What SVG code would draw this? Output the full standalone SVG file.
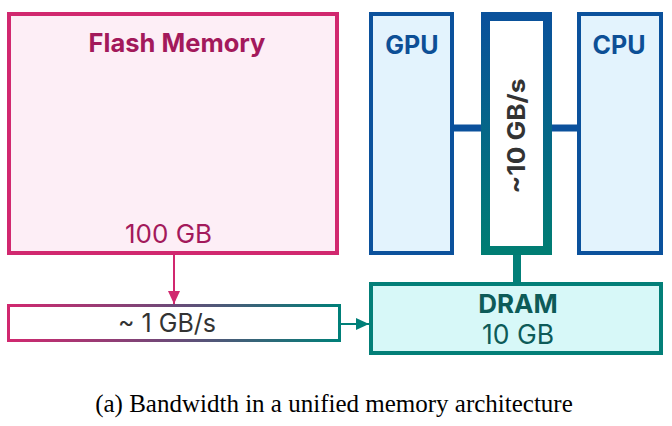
<svg xmlns="http://www.w3.org/2000/svg" width="672" height="426" viewBox="0 0 672 426">
<defs>
<linearGradient id="gv" x1="0" y1="0" x2="0" y2="1">
<stop offset="0" stop-color="#0a519b"/><stop offset="1" stop-color="#007d73"/>
</linearGradient>
<linearGradient id="gh" x1="0" y1="0" x2="1" y2="0">
<stop offset="0" stop-color="#d1286f"/><stop offset="0.5" stop-color="#6b4a78"/><stop offset="1" stop-color="#007f78"/>
</linearGradient>
<marker id="ap" markerWidth="13" markerHeight="12" refX="13" refY="6" orient="auto" markerUnits="userSpaceOnUse">
<path d="M0,0 L13,6 L0,12 Z" fill="#d1286f"/>
</marker>
<marker id="at" markerWidth="13" markerHeight="12" refX="13" refY="6" orient="auto" markerUnits="userSpaceOnUse">
<path d="M0,0 L13,6 L0,12 Z" fill="#007f78"/>
</marker>
</defs>
<style>
.sans{font-family:Inter,"Noto Sans","Liberation Sans",sans-serif}
.b{font-weight:700}
.flash{fill:#fdeef6;stroke:#d1286f;stroke-width:4}
.blue{fill:#e3f3fd;stroke:#0b519c;stroke-width:4}
.dram{fill:#d7f8f8;stroke:#037f78;stroke-width:4}
</style>
<rect width="672" height="426" fill="#fff"/>
<g id="connectors">
<line x1="454" y1="128" x2="481" y2="128" stroke="#0b519c" stroke-width="7"/>
<line x1="552" y1="128" x2="577" y2="128" stroke="#0b519c" stroke-width="7"/>
<line x1="517" y1="255" x2="517" y2="282" stroke="#037f78" stroke-width="8"/>
<line x1="174" y1="255" x2="174" y2="304" stroke="#d1286f" stroke-width="2" marker-end="url(#ap)"/>
<line x1="341" y1="324" x2="369" y2="324" stroke="#007f78" stroke-width="2" marker-end="url(#at)"/>
</g>
<g id="flash">
<rect class="flash" x="9" y="14" width="328" height="239"/>
<text class="sans b" x="177" y="52" font-size="25.5" fill="#a3195b" text-anchor="middle">Flash Memory</text>
<text class="sans" x="168.5" y="243" font-size="26" fill="#a3195b" text-anchor="middle">100 GB</text>
</g>
<g id="gpu">
<rect class="blue" x="371" y="14" width="81" height="239"/>
<text class="sans b" x="412" y="54" font-size="25" fill="#0d4f96" text-anchor="middle">GPU</text>
</g>
<g id="cpu">
<rect class="blue" x="579" y="14" width="82" height="239"/>
<text class="sans b" x="619" y="54" font-size="25" fill="#0d4f96" text-anchor="middle">CPU</text>
</g>
<g id="bus">
<rect x="485.5" y="16.5" width="62" height="234" fill="#fff" stroke="url(#gv)" stroke-width="9"/>
<text class="sans b" transform="translate(525,136) rotate(-90)" font-size="24" fill="#333" text-anchor="middle" textLength="115" lengthAdjust="spacingAndGlyphs">~10 GB/s</text>
</g>
<g id="link">
<rect x="8.5" y="305.5" width="331" height="35" fill="#fff" stroke="url(#gh)" stroke-width="3"/>
<text class="sans" x="167" y="332" font-size="25" fill="#333" text-anchor="middle">~ 1 GB/s</text>
</g>
<g id="dram">
<rect class="dram" x="371" y="284" width="290" height="69"/>
<text class="sans b" x="518" y="313" font-size="26" fill="#0d5b58" text-anchor="middle">DRAM</text>
<text class="sans" x="518" y="344" font-size="26.5" fill="#0d5b58" text-anchor="middle">10 GB</text>
</g>
<text x="334" y="412" font-family="'Liberation Serif',serif" font-size="25" fill="#000" text-anchor="middle">(a) Bandwidth in a unified memory architecture</text>
</svg>
